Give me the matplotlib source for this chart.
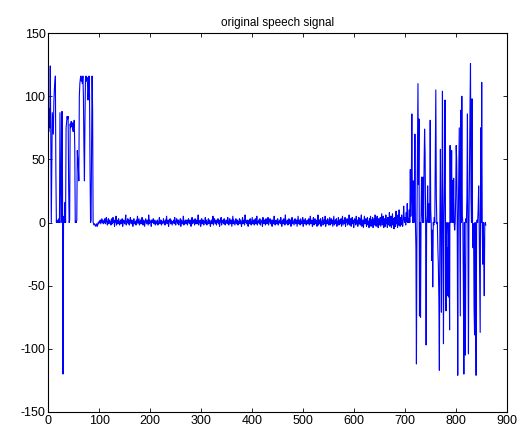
import matplotlib
matplotlib.use("Agg")
import matplotlib.pyplot as plt
import numpy as np

# speech samples
onset = [80, 72, 90, 75, 124, 72, 0, 40, 87, 78,
         70, 95, 105, 110, 116, 40, 0, 2, 0, 1,
         0, 3, 0, 87, 40, 0, 1, 88, 30, -120,
         0, 5, 0, 16, 0, 75, 80, 84, 82, 84,
         30, 0, 2, 78, 75, 80, 76, 79, 74, 72,
         78, 81, 60, 0, 1, 0, 2, 57, 50, 45,
         33, 100, 110, 114, 116, 112, 115, 110, 116, 100,
         60, 33, 80, 113, 116, 112, 115, 110, 97, 105,
         116, 100, 40, 0, 2, 60, 116, 90, 0, -1,
         -2]

silence = [-1, -2, -3, -2, -1, -3, -2, 0, -1, 1, 0, 2, -1, 1, 3, 0, 2, -1, 1, 0,
           3, -1, 2, 4, 0, -2, 1, 3, -1, 2, 0, 1, -2, 3, 1, -1, 4, 0, 2, -3,
           1, 0, 5, -2, 2, 1, -1, 3, 0, -2, 1, 2, -1, 0, 3, -3, 1, 2, 0, -1,
           2, 6, -2, 1, 0, 3, -1, 2, -2, 0, 4, 1, -1, 2, 0, -3, 1, 3, -1, 0,
           1, -2, 2, 0, 5, -1, 1, 3, -2, 0, 2, -1, 1, 4, 0, -2, 2, 1, -3, 0,
           3, 1, -1, 2, 0, -2, 6, -1, 2, 0, 1, -3, 2, 0, 1, 3, -1, 0, 2, -2,
           0, 1, -1, 2, -2, 0, 1, 4, -1, 0, 2, -2, 1, 0, -1, 3, 0, 1, -2, 2,
           0, 5, -1, 1, 2, -3, 0, 1, 3, -1, 2, 0, -2, 1, 0, 2, -1, 4, 0, -2,
           1, 3, 0, -1, 2, -2, 1, 0, 3, -3, 2, 1, -1, 0, 5, -2, 1, 0, 2, -1,
           0, 2, -2, 1, 3, 0, -1, 2, 0, -3, 1, 4, -1, 0, 2, 1, -2, 3, 0, -1,
           2, 0, -1, 6, -2, 1, 0, 2, -3, 1, 3, -1, 0, 2, -2, 1, 0, 4, -1, 2,
           -2, 0, 1, 3, -1, 2, 0, -3, 1, 2, -1, 0, 5, -2, 1, 3, 0, -1, 2, -2,
           1, 0, 3, -1, 2, -3, 0, 1, 4, -2, 1, 0, 2, -1, 3, 0, -2, 1, 2, 0,
           -1, 4, 0, -2, 1, 3, -1, 0, 2, -3, 1, 5, -1, 2, 0, -2, 1, 3, -1, 0,
           2, -2, 1, 0, 3, -1, 2, 0, -3, 1, 4, -1, 0, 2, -2, 6, 0, 1, -1, 2,
           0, -3, 1, 2, -1, 3, 0, -2, 1, 4, -1, 0, 2, -2, 1, 3, -1, 0, 5, -2,
           1, 0, 2, -1, 3, -2, 0, 1, 2, -3, 4, 0, -1, 2, 1, -2, 3, 0, -1, 1,
           4, -2, 0, 1, 3, -1, 2, 0, -3, 2, 1, -1, 5, 0, -2, 1, 2, -1, 0, 3,
           -2, 1, 0, 2, -1, 4, 0, -3, 1, 2, -1, 3, 0, -2, 6, -1, 1, 0, 2, -2,
           0, 3, -1, 1, 2, -3, 0, 4, -1, 2, 0, -2, 1, 3, -1, 0, 2, -3, 1, 5,
           -1, 0, 2, -2, 3, 1, -1, 0, 4, -3, 2, 1, -1, 3, 0, -2, 1, 2, -1, 0,
           3, -2, 1, 5, -1, 0, 2, -3, 1, 4, -2, 0, 3, -1, 2, 0, -3, 1, 6, -2,
           0, 2, -1, 3, -3, 1, 0, 4, -2, 2, 1, -1, 5, -3, 0, 2, -1, 3, 0, -2,
           1, 4, -2, 0, 3, -1, 2, -3, 1, 5, -2, 0, 2, -1, 3, -3, 1, 0, 4, -2,
           2, -1, 0, 3, -3, 1, 5, -2, 0, 2, -1, 4, -3, 1, 0, 3, -2, 2, -1, 6,
           -2, 1, 3, -3, 0, 4, -1, 2, -4, 1, 3, 0, -2, 5, -1, 2, -3, 0, 4, -1,
           3, -2, 1, 6, -3, 0, 2, -4, 1, 5, -1, 0, 3, -3, 2, 4, -2, 1, -4, 3,
           0, 5, -3, 2, -1, 4, -4, 1, 3, -2, 6, 0, -3, 2, 5, -1, -4, 3, 1, -2,
           4, -3, 2, 7, -2, 0, 5, -4, 3, 1, -3, 6, -1, 2, -4, 4, 0, -2, 8, -3,
           2, 5, -4, 1, 7, -2, 3, -5, 4, 0, -3, 9, -1, 2, -4, 6, -2, 10, 1, -3,
           4, -2, 6, 0, -3]

burst = [2, 13, 3, 0, 4, -2, 8, 1, 15, 0,
         3, 0, 10, 0, 42, 5, 30, 86, 20, 0,
         33, 0, 10, 70, 0, -20, -112, 0, 50, 110,
         30, 82, -74, 0, -75, 0, 36, 10, 0, 36,
         0, 45, 74, 54, 0, -97, 0, 5, 29, 0,
         5, 15, 0, 81, 10, 0, -30, -6, -51, 0,
         -2, 4, 0, 50, 105, 20, -1, 0, -20, -34,
         -60, -117, 0, 58, 0, -71, 0, 104, 0, -96,
         0, 30, 97, 0, -70, -10, 0, -58, -20, -59,
         0, -85, 61, 0, 15, 57, 0, 33, 0, 35,
         0, -6, 0, 20, 61, 48, 0, -121, 0, 41,
         75, 0, -74, 89, 0, 100, 5, 0, -50, -120,
         0, -80, -105, 3, 0, 20, 86, 0, -104, 0,
         40, 89, 126, 20, 0, 98, 0, -20, -1, -68,
         -89, 0, -50, -121, 0, 2, 0, 10, 29, 0,
         -40, -87, 75, 0, 111, 0, -33, 0, -20, -58,
         -1, 0, -2]

signal = onset + silence + burst
n = np.arange(len(signal))

plt.rcParams['font.family'] = ['Liberation Sans', 'DejaVu Sans']
plt.rcParams['font.size'] = 9
plt.rcParams['axes.unicode_minus'] = False

fig = plt.figure(figsize=(5.3, 4.3), dpi=100)
ax = fig.add_axes([0.091, 0.042, 0.866, 0.881])
ax.plot(n, signal, color='#0000ff', linewidth=0.8)

ax.set_xlim(0, 900)
ax.set_ylim(-150, 150)
ax.set_xticks(np.arange(0, 901, 100))
ax.set_yticks(np.arange(-150, 151, 50))
ax.tick_params(direction='in', top=True, right=True, length=3, width=0.6,
               labelsize=9, pad=2)
for s in ax.spines.values():
    s.set_linewidth(0.8)
ax.set_title("original speech signal", fontsize=8.5, pad=5)

fig.savefig("out.png", dpi=100)
